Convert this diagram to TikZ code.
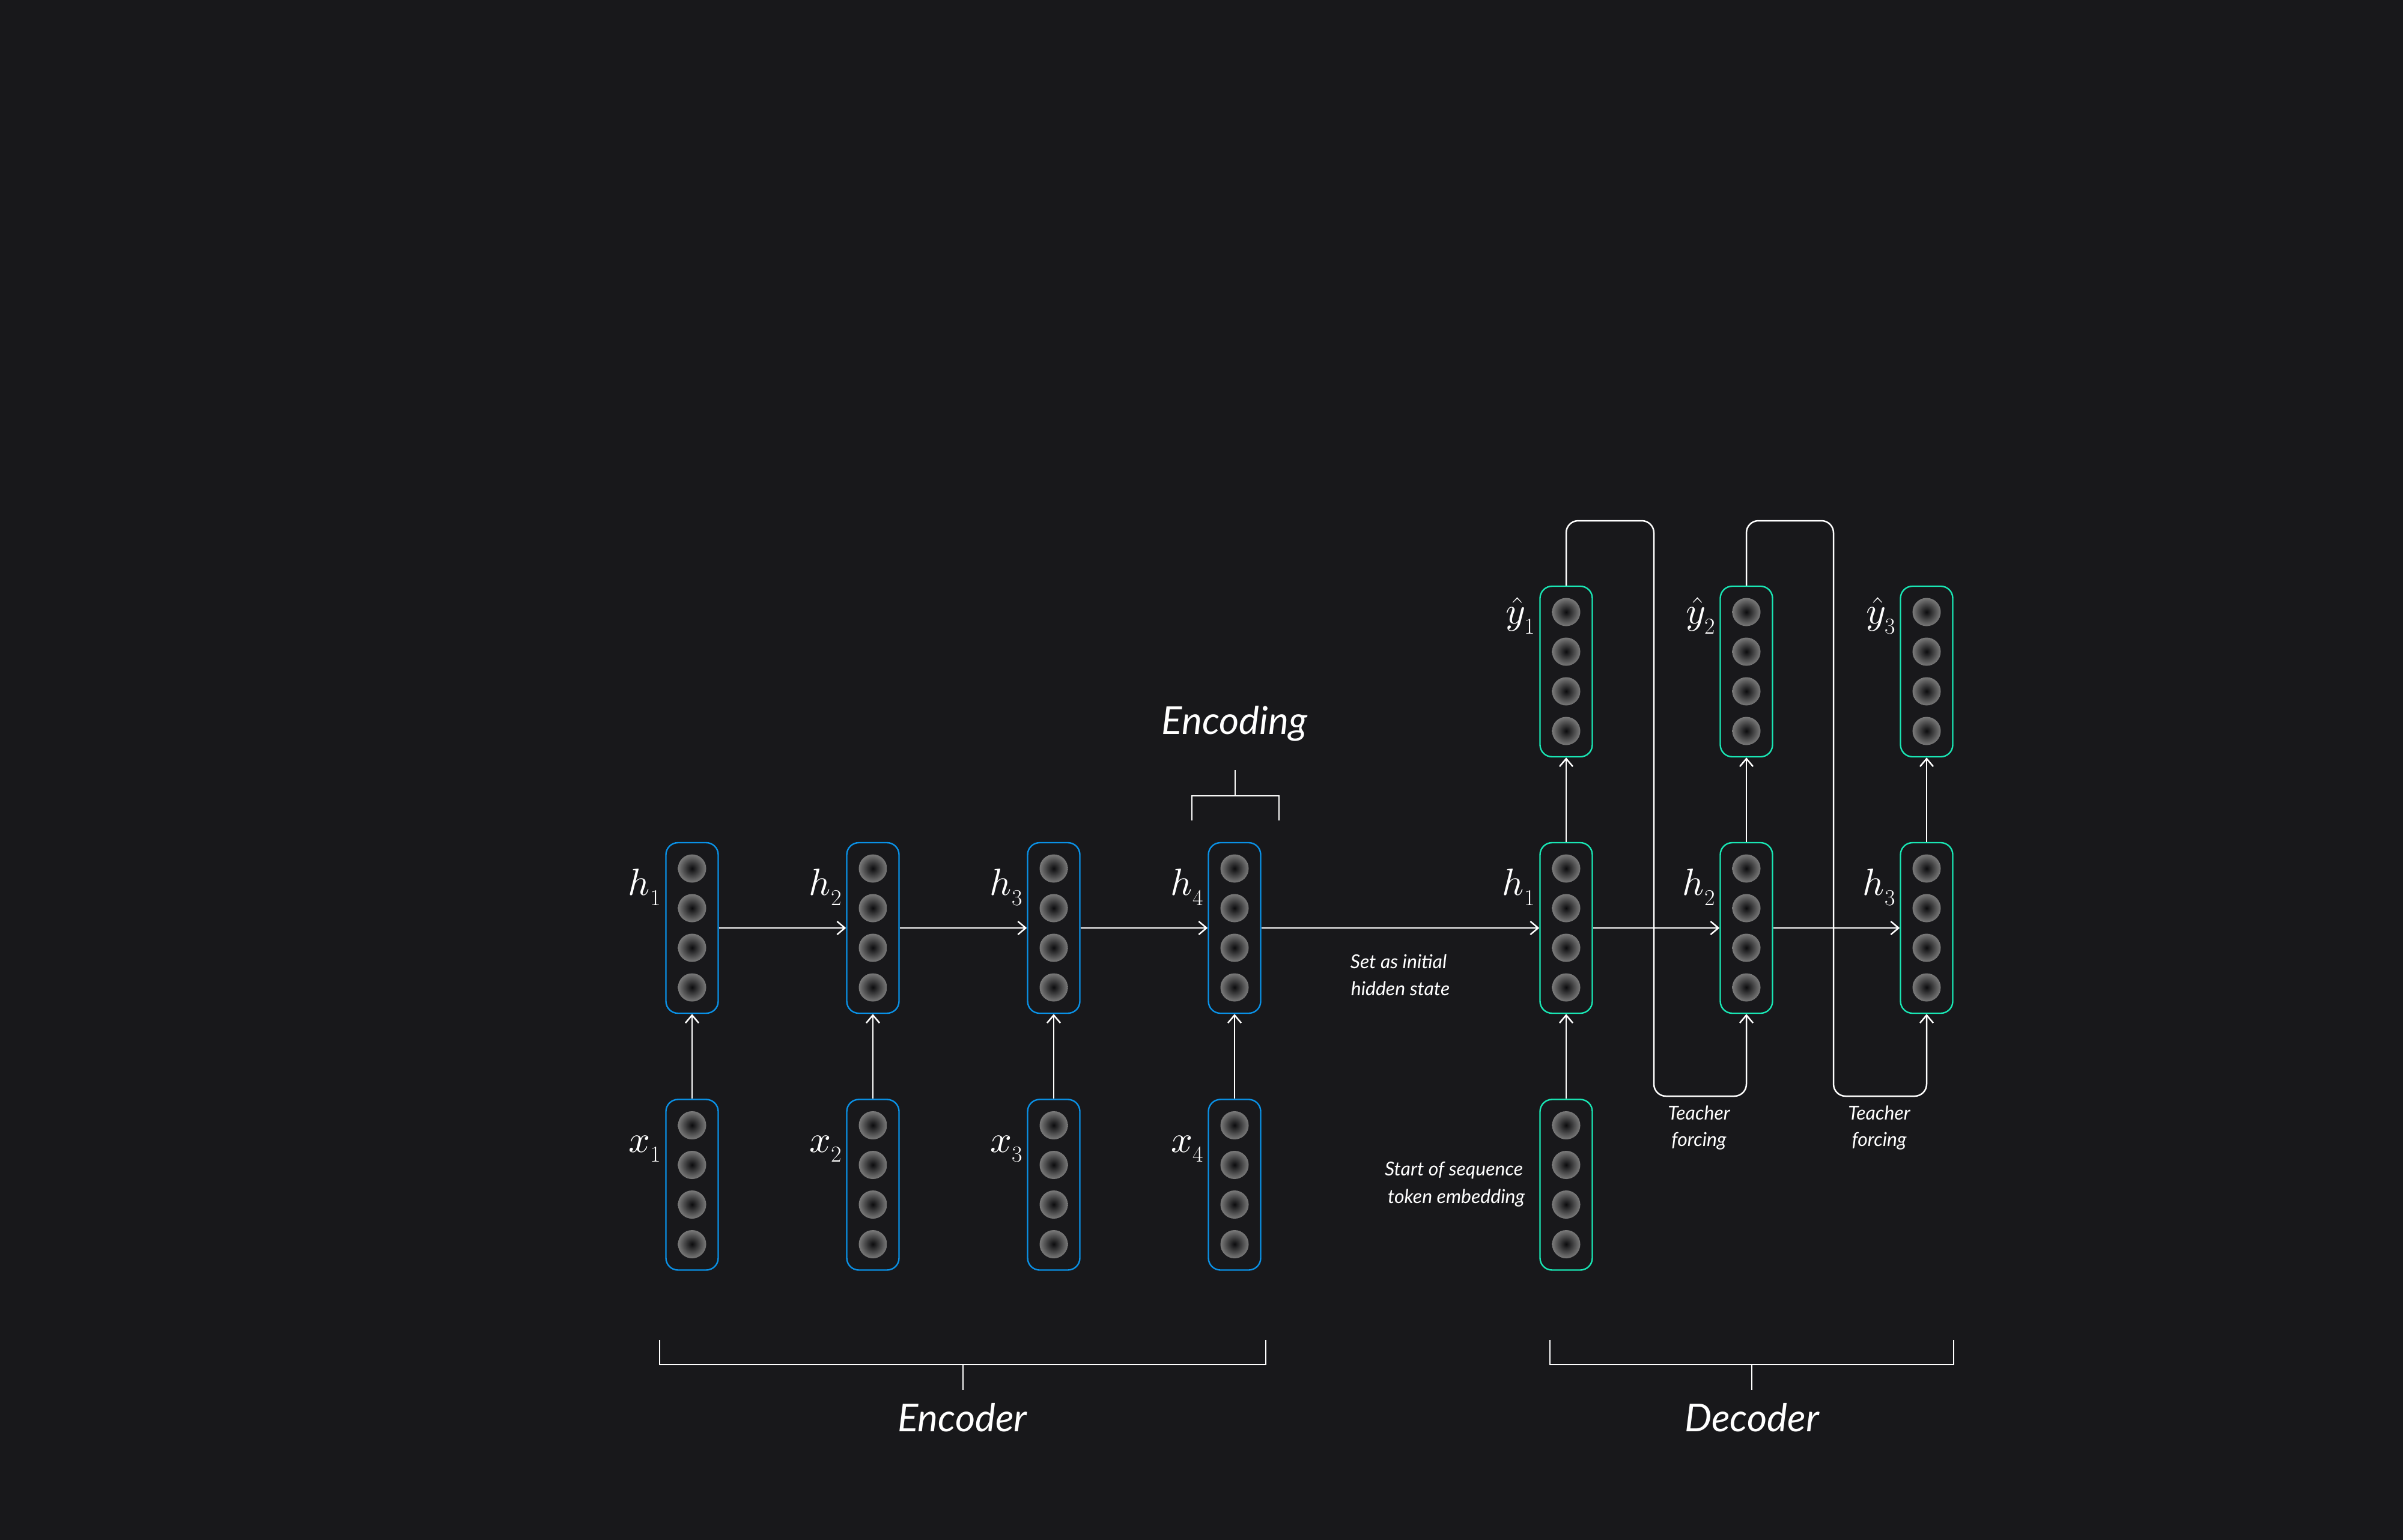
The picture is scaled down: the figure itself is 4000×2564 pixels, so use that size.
\documentclass[tikz,border=0pt]{standalone}
\usepackage{fix-cm}
\DeclareFontShape{OML}{cmm}{m}{it}{<->cmmi10}{}
\usepackage{fontspec}
\setmainfont{Lato}
\usetikzlibrary{arrows.meta,calc}
\DeclareMathSizes{63}{63}{38}{28}
\definecolor{bg}{RGB}{24,24,27}
\definecolor{encblue}{RGB}{10,145,230}
\definecolor{decgreen}{RGB}{25,230,180}
\definecolor{dotin}{RGB}{12,12,14}
\definecolor{dotout}{RGB}{122,122,122}
\newcommand{\vecstack}[4]{%
  \node[vecbox, draw=#4] (#1) at (#2,#3) {};
  \foreach \k in {-99,-33,33,99}{\shade[inner color=dotin, outer color=dotout] ($(#1.center)+(0,\k)$) circle (23.5pt);}
}
\newcommand{\lsub}[1]{_{\lower7pt\hbox{$\scriptstyle #1$}}}
\begin{document}
\begin{tikzpicture}[x=1pt,y=-1pt,
  vecbox/.style={line width=2.4pt, rounded corners=20pt, minimum width=87pt, minimum height=284pt, inner sep=0pt, rectangle},
  conn/.style={draw=white, line width=2.5pt, -{Straight Barb[length=13pt,width=22pt,line width=2.5pt]}},
  plainline/.style={draw=white, line width=2.5pt},
  mlabel/.style={text=white, font=\fontsize{63}{70}\selectfont, inner sep=0pt, anchor=base east},
  smalltxt/.style={text=white, font=\fontsize{32}{38}\selectfont\itshape, inner sep=0pt, anchor=base},
  bigtxt/.style={text=white, font=\fontsize{64}{72}\selectfont\itshape, inner sep=0pt, anchor=base}]
\useasboundingbox (0,0) rectangle (4000,2564);
\fill[bg] (0,0) rectangle (4000,2564);

% encoder
\vecstack{eh1}{1152}{1545}{encblue}
\vecstack{eh2}{1453}{1545}{encblue}
\vecstack{eh3}{1754}{1545}{encblue}
\vecstack{eh4}{2055}{1545}{encblue}
\vecstack{ex1}{1152}{1972.5}{encblue}
\vecstack{ex2}{1453}{1972.5}{encblue}
\vecstack{ex3}{1754}{1972.5}{encblue}
\vecstack{ex4}{2055}{1972.5}{encblue}
% decoder
\vecstack{dx0}{2607}{1972.5}{decgreen}
\vecstack{dh1}{2607}{1545}{decgreen}
\vecstack{dh2}{2907}{1545}{decgreen}
\vecstack{dh3}{3207}{1545}{decgreen}
\vecstack{dy1}{2607}{1118}{decgreen}
\vecstack{dy2}{2907}{1118}{decgreen}
\vecstack{dy3}{3207}{1118}{decgreen}

% labels
\foreach \i in {1,2,3,4}{
  \node[mlabel] (leh\i) at ($(eh\i.north west)+(-7,89)$) {$h\lsub{\i}$};
  \node[mlabel] (lex\i) at ($(ex\i.north west)+(-7,89)$) {$x\lsub{\i}$};
}
\foreach \i in {1,2,3}{
  \node[mlabel] (ldh\i) at ($(dh\i.north west)+(-7,89)$) {$h\lsub{\i}$};
  \node[mlabel] (ldy\i) at ($(dy\i.north west)+(-7,64)$) {$\hat{y}\lsub{\i}$};
}

% connectors
\foreach \i in {1,2,3,4}{\draw[conn] (ex\i) -- (eh\i);}
\draw[conn] (eh1) -- (eh2);
\draw[conn] (eh2) -- (eh3);
\draw[conn] (eh3) -- (eh4);
\draw[conn] (eh4) -- (dh1);
\draw[conn] (dx0) -- (dh1);
\foreach \i in {1,2,3}{\draw[conn] (dh\i) -- (dy\i);}
\draw[conn] (dh1) -- (dh2);
\draw[conn] (dh2) -- (dh3);

\coordinate (tfa1) at (2753,867);
\coordinate (tfb1) at (2753,1825);
\coordinate (tfa2) at (3052,867);
\coordinate (tfb2) at (3052,1825);
\draw[conn, rounded corners=20pt] (dy1.north) |- (tfa1) -- (tfb1) -| (dh2.south);
\draw[conn, rounded corners=20pt] (dy2.north) |- (tfa2) -- (tfb2) -| (dh3.south);

% texts
\node[smalltxt] (t1a) at (2328,1612.5) {Set as initial};
\node[smalltxt] (t1b) at (2331,1657) {hidden state};
\node[smalltxt] (t2a) at (2420,1957) {Start of sequence};
\node[smalltxt] (t2b) at (2424,2003.5) {token embedding};
\node[smalltxt] (t3a) at (2828,1864.5) {Teacher};
\node[smalltxt] (t3b) at (2828,1908.5) {forcing};
\node[smalltxt] (t4a) at (3128,1864.5) {Teacher};
\node[smalltxt] (t4b) at (3128,1908.5) {forcing};

% brackets
\draw[plainline] (1984,1366) -- (1984,1325) -- (2129,1325) -- (2129,1366);
\draw[plainline] (2056,1325) -- (2056,1282);
\node[bigtxt] (encoding) at (2055,1222) {Encoding};

\draw[plainline] (1098,2231) -- (1098,2272) -- (2107,2272) -- (2107,2231);
\draw[plainline] (1603,2272) -- (1603,2314);
\node[bigtxt] (encoder) at (1602,2383) {Encoder};

\draw[plainline] (2580,2231) -- (2580,2272) -- (3252,2272) -- (3252,2231);
\draw[plainline] (2916,2272) -- (2916,2314);
\node[bigtxt] (decoder) at (2916,2383) {Decoder};
\end{tikzpicture}
\end{document}
